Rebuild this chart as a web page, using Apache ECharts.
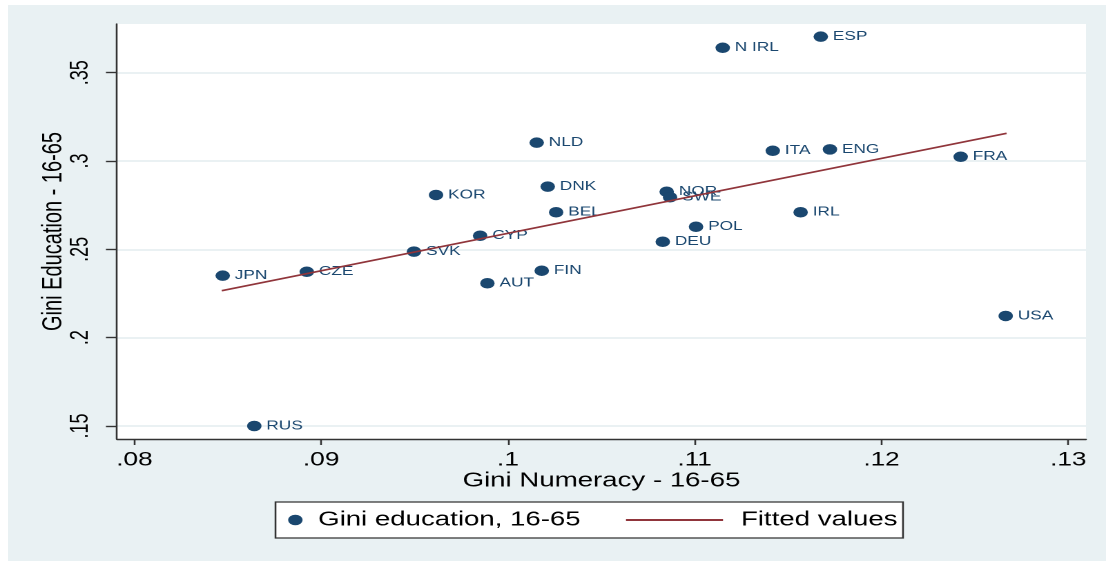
<!DOCTYPE html>
<html>
<head>
<meta charset="utf-8">
<script src="https://cdn.jsdelivr.net/npm/echarts@6/dist/echarts.min.js"></script>
<style>
html,body{margin:0;padding:0;background:#fff;overflow:hidden;width:1106px;height:561px}
#bg{position:absolute;left:8px;top:5px;right:0;bottom:0;background:#e9f1f3}
#chart{position:absolute;left:0;top:0;height:561px;transform-origin:0 0}
</style>
</head>
<body>
<div id="bg"></div>
<div id="chart"></div>
<script>
// ---- data ----
const countries = ['ESP','N IRL','NLD','ITA','ENG','FRA','DNK','KOR','NOR','SWE','BEL','IRL','POL','DEU','CYP','SVK','JPN','CZE','FIN','AUT','USA','RUS'];
const giniNumeracy = [0.11675,0.11150,0.10154,0.11418,0.11724,0.12424,0.10213,0.09615,0.10850,0.10868,0.10258,0.11567,0.11007,0.10829,0.09851,0.09497,0.08473,0.08923,0.10181,0.09890,0.12665,0.08642];
const giniEducation = [0.3704,0.3641,0.3104,0.3058,0.3066,0.3024,0.2855,0.2808,0.2826,0.2795,0.2710,0.2710,0.2628,0.2543,0.2577,0.2487,0.2351,0.2373,0.2379,0.2308,0.2123,0.1500];
const fitX = [0.08468, 0.12670];
const fitY = [0.22659, 0.31568];
const xTickValues = [0.08,0.09,0.10,0.11,0.12,0.13];
const xTickLabels = ['.08','.09','.1','.11','.12','.13'];
const yTickValues = [0.15,0.20,0.25,0.30,0.35];
const yTickLabels = ['.15','.2','.25','.3','.35'];
const xRange = [0.07907, 0.13095];
const yRange = [0.14264, 0.37757];
const scatterName = 'Gini education, 16-65';
const lineName = 'Fitted values';
const xTitle = 'Gini Numeracy - 16-65';
const yTitle = 'Gini Education - 16-65';

// ---- layout: reference is horizontally stretched, so draw narrower and stretch ----
const W = 801;
const S = 1106 / W;
const el = document.getElementById('chart');
el.style.width = W + 'px';
el.style.transform = 'scaleX(' + S + ')';
const sx = v => v / S; // screen x -> internal x

const FONT = "'Liberation Sans', Arial, Helvetica, sans-serif";
const NAVY = '#1a476f';
const MAROON = '#90353b';
const AXIS = '#333333';

function lab(values, labels) {
  return v => {
    for (let i = 0; i < values.length; i++) if (Math.abs(values[i] - v) < 1e-9) return labels[i];
    return '';
  };
}

const chart = echarts.init(el, null, {renderer: 'canvas', devicePixelRatio: 2});
chart.setOption({
  animation: false,
  backgroundColor: 'transparent',
  textStyle: {fontFamily: FONT},
  grid: {
    left: sx(117), right: W - sx(1086), top: 24, bottom: 561 - 439,
    show: true, backgroundColor: '#ffffff', borderWidth: 0,
    containLabel: false, outerBoundsMode: 'none'
  },
  xAxis: {
    type: 'value', min: xRange[0], max: xRange[1],
    axisLine: {show: true, onZero: false, lineStyle: {color: AXIS, width: 1.4}},
    axisTick: {show: true, length: 6, customValues: xTickValues, lineStyle: {color: AXIS, width: 1.3}},
    axisLabel: {customValues: xTickValues, formatter: lab(xTickValues, xTickLabels), fontSize: 19, color: '#000', margin: 12, fontFamily: FONT},
    splitLine: {show: false},
    name: xTitle, nameLocation: 'middle', nameGap: 32, nameMoveOverlap: false,
    nameTextStyle: {fontSize: 20, color: '#000', fontFamily: FONT}
  },
  yAxis: {
    type: 'value', min: yRange[0], max: yRange[1],
    axisLine: {show: true, onZero: false, lineStyle: {color: AXIS, width: 1.3}},
    axisTick: {show: true, length: 8, customValues: yTickValues, lineStyle: {color: AXIS, width: 1.4}},
    axisLabel: {customValues: yTickValues, formatter: lab(yTickValues, yTickLabels), rotate: 90, fontSize: 18, color: '#000', margin: 17, fontFamily: FONT},
    splitLine: {show: true, lineStyle: {color: '#e4edf0', width: 1.6}},
    name: yTitle, nameLocation: 'middle', nameGap: 36, nameMoveOverlap: false,
    nameTextStyle: {fontSize: 20, color: '#000', fontFamily: FONT}
  },
  legend: [
    {
      data: [{name: scatterName, icon: 'circle'}],
      left: sx(295) - 5, top: 508, padding: 0, z: 5,
      itemWidth: 23, itemHeight: 10.5, selectedMode: false,
      textStyle: {fontSize: 20, color: '#000', lineHeight: 24, fontFamily: FONT}
    },
    {
      data: [{name: lineName, icon: 'rect'}],
      left: sx(626), top: 508, padding: 0, z: 5,
      itemWidth: sx(723) - sx(626), itemHeight: 2, selectedMode: false,
      textStyle: {fontSize: 20, color: '#000', lineHeight: 24, fontFamily: FONT, padding: [0, 0, 0, 8]}
    }
  ],
  graphic: [{
    type: 'rect', z: 1,
    shape: {x: sx(275.5), y: 502, width: sx(903) - sx(275.5), height: 36},
    style: {fill: '#ffffff', stroke: '#333333', lineWidth: 1.3}
  }],
  series: [
    {
      name: scatterName, type: 'scatter', z: 2,
      data: countries.map((c, i) => [giniNumeracy[i], giniEducation[i], c]),
      symbol: 'circle', symbolSize: 10.5,
      itemStyle: {color: NAVY, opacity: 1},
      label: {show: true, position: 'right', distance: 3.5, formatter: p => p.data[2], color: NAVY, fontSize: 12.5, fontFamily: FONT},
      emphasis: {disabled: true}
    },
    {
      name: lineName, type: 'line', z: 3,
      data: fitX.map((x, i) => [x, fitY[i]]),
      symbol: 'none', color: MAROON,
      lineStyle: {color: MAROON, width: 1.6},
      emphasis: {disabled: true}
    }
  ]
});
</script>
</body>
</html>
